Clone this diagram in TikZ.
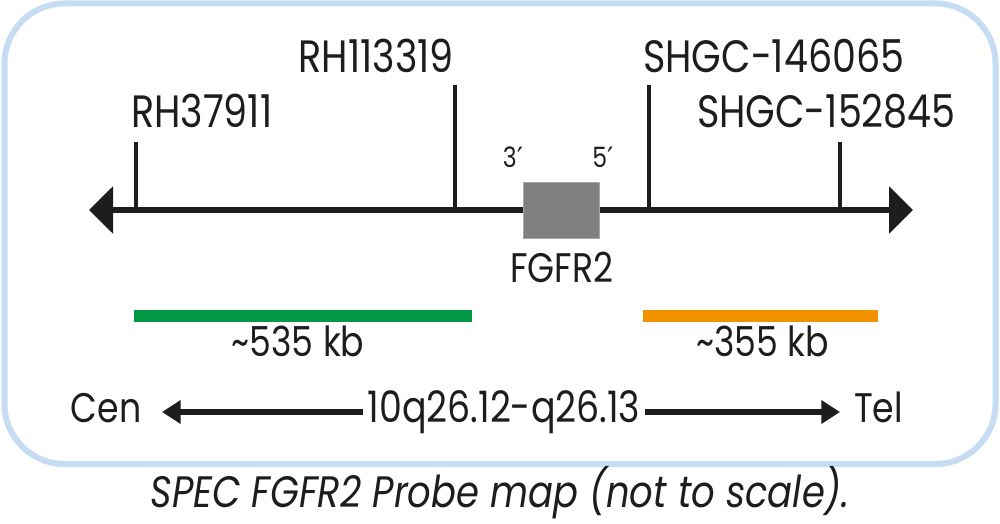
\documentclass[tikz,border=0pt]{standalone}
\usepackage{fontspec}
\setmainfont{Poppins}[FakeStretch=0.84]
\newfontfamily\dejavu{DejaVu Sans}
\usetikzlibrary{arrows.meta}
\definecolor{frameblue}{HTML}{C6DCF2}
\definecolor{ink}{HTML}{1D1D1B}
\definecolor{probegreen}{HTML}{009A44}
\definecolor{probeorange}{HTML}{F39200}
\definecolor{genegray}{HTML}{808080}
\definecolor{geneedge}{HTML}{A8A8A8}
\newcommand{\primemark}{{\dejavu\char"2032}}
\begin{document}
\begin{tikzpicture}[x=0.75pt,y=-0.75pt,
  markerlabel/.style={font=\fontsize{34}{36}\selectfont, text=ink, inner sep=0pt},
  smalllabel/.style={font=\fontsize{31}{33}\selectfont, text=ink, inner sep=0pt, anchor=base},
  bandlabel/.style={font=\fontsize{32.5}{34}\selectfont, text=ink, inner ysep=0pt, inner xsep=3pt, anchor=base},
  endlabel/.style={font=\fontsize{21}{23}\selectfont, text=ink, inner sep=0pt, anchor=base},
  captionlabel/.style={font=\fontsize{33}{35}\selectfont\itshape, text=ink, inner sep=0pt, anchor=base},
  chromline/.style={draw=ink, line width=4.5pt, {Triangle[length=18pt,width=34.5pt]}-{Triangle[length=18pt,width=34.5pt]}},
  tickline/.style={draw=ink, line width=2.4pt},
  orientarrow/.style={draw=ink, line width=4.5pt, -{Triangle[length=14pt,width=17pt]}},
  probebar/.style={line width=9pt},
  genebox/.style={fill=genegray, draw=geneedge, line width=0.6pt, minimum width=57pt, minimum height=42pt, inner sep=0pt},
  frame/.style={draw=frameblue, line width=4.5pt, rounded corners=45pt}
]
\useasboundingbox (0,0) rectangle (1000,524);
% frame
\draw[frame] (4.5,3.5) rectangle (995.5,464);

% chromosome line
\coordinate (L) at (89,210);
\coordinate (R) at (913,210);
\draw[chromline] (L) -- (R);

% gene
\node[genebox] (gene) at (561,210) {};
\node[endlabel] (three) at (513,168) {3\primemark};
\node[endlabel] (five) at (603,168) {5\primemark};
\node[smalllabel] (fgfr) at (562,282) {FGFR2};

% markers
\coordinate (t1b) at (136,210); \coordinate (t1t) at (136,142);
\coordinate (t2b) at (455,210); \coordinate (t2t) at (455,85);
\coordinate (t3b) at (649,210); \coordinate (t3t) at (649,85);
\coordinate (t4b) at (840,210); \coordinate (t4t) at (840,142);
\draw[tickline] (t1b) -- (t1t);
\draw[tickline] (t2b) -- (t2t);
\draw[tickline] (t3b) -- (t3t);
\draw[tickline] (t4b) -- (t4t);
\node[markerlabel, anchor=base west] (m1) at (131,128) {RH37911};
\node[markerlabel, anchor=base east] (m2) at (454,73) {RH113319};
\node[markerlabel, anchor=base west] (m3) at (643,73) {SHGC-146065};
\node[markerlabel, anchor=base east] (m4) at (956,128) {SHGC-152845};

% probes
\coordinate (g1) at (134,316); \coordinate (g2) at (472,316);
\coordinate (o1) at (643,316); \coordinate (o2) at (878,316);
\draw[probebar, probegreen] (g1) -- (g2);
\draw[probebar, probeorange] (o1) -- (o2);
\node[smalllabel] (gk) at (298,356) {\textasciitilde 535 kb};
\node[smalllabel] (ok) at (762.5,356) {\textasciitilde 355 kb};

% orientation
\node[smalllabel] (cen) at (106,422) {Cen};
\node[bandlabel] (band) at (504,422) {10q26.12-q26.13};
\node[smalllabel] (tel) at (878.5,422) {Tel};
\coordinate (cenTip) at (162,412);
\coordinate (telTip) at (840,412);
\draw[orientarrow] (band.west |- cenTip) -- (cenTip);
\draw[orientarrow] (band.east |- telTip) -- (telTip);

% caption
\node[captionlabel] (cap) at (500,507) {SPEC FGFR2 Probe map (not to scale).};
\end{tikzpicture}
\end{document}
